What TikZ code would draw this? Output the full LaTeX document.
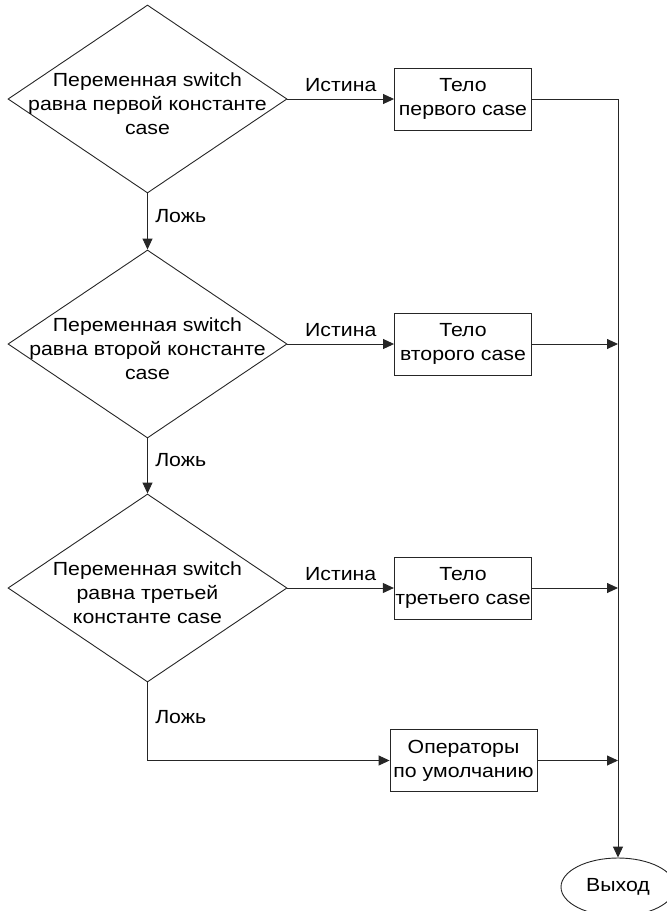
\documentclass[tikz,border=0pt]{standalone}
\usepackage{fontspec}
\setmainfont{Liberation Sans}[FakeStretch=1.12]
\usetikzlibrary{positioning, calc, shapes.geometric, arrows.meta}

\tikzset{
  cond/.style={draw, diamond, minimum width=279pt, minimum height=188pt, inner sep=0pt},
  condtext/.style={align=center, font=\fontsize{19}{24}\selectfont},
  body/.style={draw, rectangle, minimum width=137pt, minimum height=62pt, inner sep=1pt,
               align=center, font=\fontsize{19}{24}\selectfont},
  lbl/.style={font=\fontsize{19}{24}\selectfont},
  flow/.style={-{Triangle[length=11pt, width=10pt]}},
}

\begin{document}
\begin{tikzpicture}[x=1pt, y=-1pt, line width=0.9pt, draw=black!85]
        \useasboundingbox (0,0) rectangle (667,911);

        \coordinate (c1) at (147.5,99);
        \coordinate (c2) at (147.5,344);
        \coordinate (c3) at (147.5,588);

        \coordinate (shift) at (315.5,0);

        % conditions
        \node[cond] (d1) at (c1) {};
        \node[cond] (d2) at (c2) {};
        \node[cond] (d3) at (c3) {};
        \node[condtext] at ($ (d1) + (0,5) $) {Переменная switch\\равна первой константе\\case};
        \node[condtext] at ($ (d2) + (0,5) $) {Переменная switch\\равна второй константе\\case};
        \node[condtext] at ($ (d3) + (0,5) $) {Переменная switch\\равна третьей\\константе case};

        % case bodies
        \node[body] (b1) at ($ (c1) + (shift) $) {Тело\\первого case};
        \node[body] (b2) at ($ (c2) + (shift) $) {Тело\\второго case};
        \node[body] (b3) at ($ (c3) + (shift) $) {Тело\\третьего case};
        \node[body, minimum width=147pt] (b4) at (463.5,760.5) {Операторы\\по умолчанию};

        % exit
        \node[draw, ellipse, minimum width=114pt, minimum height=58pt, inner sep=0pt, lbl] (ex) at (618,887) {Выход};

        \draw[flow] (d1.east) -- node[lbl, above=3.5pt] {Истина} (b1.west);
        \draw[flow] (d2.east) -- node[lbl, above=3.5pt] {Истина} (b2.west);
        \draw[flow] (d3.east) -- node[lbl, above=3.5pt] {Истина} (b3.west);

        \draw[flow] (d1.south) -- node[lbl, right=4pt, pos=.4] {Ложь} (d2.north);
        \draw[flow] (d2.south) -- node[lbl, right=4pt, pos=.4] {Ложь} (d3.north);
        \draw[flow] (d3.south) |- node[lbl, right=4pt, pos=.22] {Ложь} (b4.west);

        \draw[flow] (b1.east) -| (ex.north);   %main line
        \draw[flow] (b2.east) -- (b2.east -| ex.north);
        \draw[flow] (b3.east) -- (b3.east -| ex.north);
        \draw[flow] (b4.east) -- (b4.east -| ex.north);
\end{tikzpicture}
\end{document}
